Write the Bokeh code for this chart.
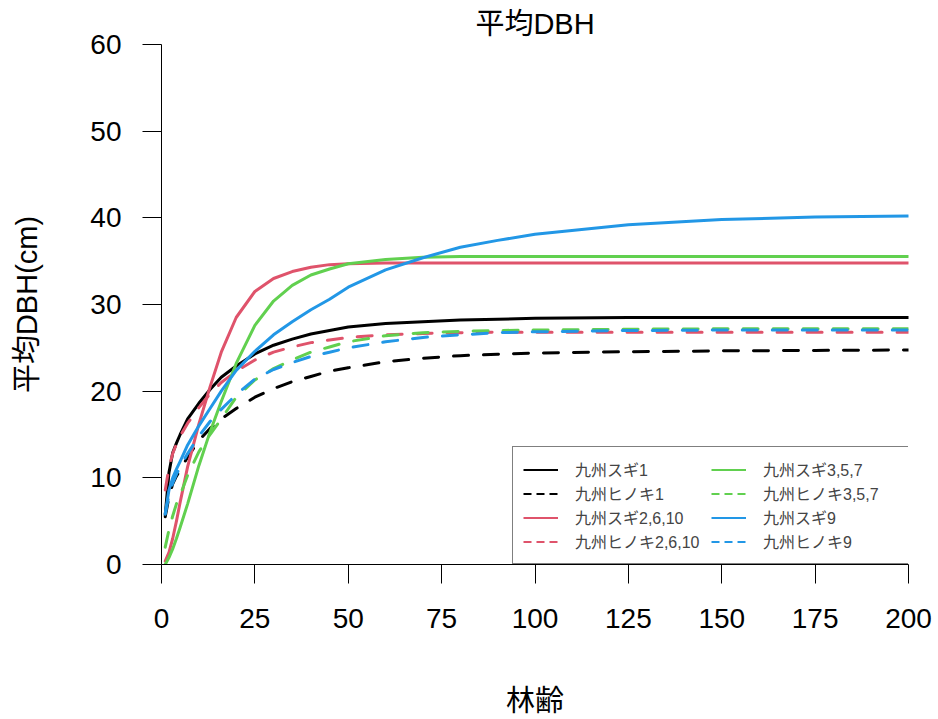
from bokeh.plotting import figure
from bokeh.models import ColumnDataSource, Legend, LegendItem, FixedTicker, Range1d
from bokeh.embed import file_html
from bokeh.resources import INLINE

# ---- data ----
ages = [1, 2, 3, 4, 5, 7, 10, 13, 16, 20, 25, 30, 35, 40, 45, 50, 60, 70, 80, 90, 100, 125, 150, 175, 200]

sugi_1 = [5.7, 10.6, 12.9, 14.0, 15.0, 16.8, 18.6, 20.2, 21.6, 22.9, 24.3, 25.3, 26.0, 26.6, 27.0,
          27.4, 27.8, 28.0, 28.2, 28.3, 28.4, 28.5, 28.5, 28.5, 28.5]
hinoki_1 = [5.5, 7.8, 9.3, 10.2, 10.9, 12.4, 14.3, 15.7, 16.8, 18.0, 19.3, 20.3, 21.1, 21.7, 22.3,
            22.7, 23.4, 23.8, 24.1, 24.25, 24.4, 24.55, 24.65, 24.7, 24.75]
sugi_2_6_10 = [0.4, 1.4, 3.0, 5.0, 7.2, 11.3, 16.2, 20.5, 24.5, 28.5, 31.5, 33.0, 33.8, 34.3, 34.6,
               34.7, 34.8, 34.8, 34.8, 34.8, 34.8, 34.8, 34.8, 34.8, 34.8]
hinoki_2_6_10 = [8.6, 11.2, 12.8, 13.9, 14.8, 16.3, 18.1, 19.7, 21.0, 22.3, 23.6, 24.5, 25.1, 25.6, 25.9,
                 26.2, 26.5, 26.65, 26.75, 26.8, 26.8, 26.8, 26.8, 26.8, 26.8]
sugi_3_5_7 = [0.0, 0.8, 1.8, 3.0, 4.3, 7.0, 11.4, 15.3, 18.8, 23.2, 27.6, 30.4, 32.2, 33.4, 34.1,
              34.7, 35.2, 35.45, 35.55, 35.55, 35.55, 35.55, 35.55, 35.55, 35.55]
hinoki_3_5_7 = [2.0, 4.0, 5.6, 7.0, 8.0, 10.3, 13.0, 15.0, 16.8, 19.3, 21.3, 22.6, 23.6, 24.5, 25.1,
                25.7, 26.4, 26.75, 26.9, 27.0, 27.05, 27.15, 27.2, 27.2, 27.2]
sugi_9 = [5.9, 8.6, 10.0, 11.0, 11.9, 13.8, 16.0, 18.0, 20.0, 22.4, 24.6, 26.5, 28.0, 29.4, 30.6,
          32.0, 34.0, 35.4, 36.6, 37.4, 38.1, 39.2, 39.8, 40.1, 40.2]
hinoki_9 = [5.8, 8.0, 9.4, 10.4, 11.3, 12.8, 14.8, 16.5, 17.9, 19.6, 21.4, 22.5, 23.3, 24.0, 24.5,
            25.0, 25.7, 26.2, 26.5, 26.75, 26.85, 27.0, 27.05, 27.05, 27.05]

series_names = ["九州スギ1", "九州ヒノキ1", "九州スギ2,6,10", "九州ヒノキ2,6,10",
                "九州スギ3,5,7", "九州ヒノキ3,5,7", "九州スギ9", "九州ヒノキ9"]
series_values = [sugi_1, hinoki_1, sugi_2_6_10, hinoki_2_6_10,
                 sugi_3_5_7, hinoki_3_5_7, sugi_9, hinoki_9]
series_colors = ["#000000", "#000000", "#DF536B", "#DF536B",
                 "#61D04F", "#61D04F", "#2297E6", "#2297E6"]
series_dashed = [False, True, False, True, False, True, False, True]

x_ticks = [0, 25, 50, 75, 100, 125, 150, 175, 200]
y_ticks = [0, 10, 20, 30, 40, 50, 60]

TXT_FONT = "Liberation Sans, Noto Sans CJK JP"

p = figure(width=938, height=719, output_backend="svg", toolbar_location=None,
           x_range=Range1d(0, 200), y_range=Range1d(0, 60),
           min_border_left=161, min_border_right=30, min_border_top=44, min_border_bottom=153)
p.outline_line_color = None
p.xgrid.visible = False
p.ygrid.visible = False
p.background_fill_color = "white"
p.border_fill_color = "white"

p.title.text = "平均DBH"
p.title.align = "center"
p.title.text_font = TXT_FONT
p.title.text_font_size = "29px"
p.title.text_font_style = "normal"
p.title.text_color = "black"

for ax, ticks in ((p.xaxis, x_ticks), (p.yaxis, y_ticks)):
    ax.ticker = FixedTicker(ticks=ticks)
    ax.minor_tick_line_color = None
    ax.major_tick_in = 0
    ax.major_tick_out = 19
    ax.major_tick_line_color = "black"
    ax.axis_line_color = "black"
    ax.major_label_text_font = "Liberation Sans"
    ax.major_label_text_font_size = "28px"
    ax.major_label_text_color = "black"
    ax.axis_label_text_font = TXT_FONT
    ax.axis_label_text_font_size = "29px"
    ax.axis_label_text_font_style = "normal"
    ax.axis_label_text_color = "black"

p.xaxis.axis_label = "林齢"
p.yaxis.axis_label = "平均DBH(cm)"
p.xaxis.major_label_standoff = 25
p.yaxis.major_label_standoff = 21
p.xaxis.axis_label_standoff = 54
p.yaxis.axis_label_standoff = 44

items = []
for name, vals, col, dashed in zip(series_names, series_values, series_colors, series_dashed):
    src = ColumnDataSource(dict(x=ages, y=vals))
    kw = dict(line_dash="15 15") if dashed else {}
    p.line("x", "y", source=src, line_color=col, line_width=3, line_cap="round",
           line_join="round", **kw)
    # legend-only renderer (outside the visible range) with thinner, shorter-dash styling
    lkw = dict(line_dash="8 5") if dashed else {}
    lr = p.line(x=[-20, -10], y=[-20, -20], line_color=col, line_width=2, **lkw)
    items.append(LegendItem(label=name, renderers=[lr]))

legend = Legend(items=items, location=(351, 0), orientation="vertical", nrows=4,
                margin=0, padding=10, spacing=0, glyph_width=35, glyph_height=21,
                label_height=21, label_width=136, label_standoff=17,
                label_text_font=TXT_FONT, label_text_font_size="16px",
                border_line_color="black", border_line_width=1,
                background_fill_color="white", background_fill_alpha=1.0)
p.add_layout(legend)

open("out.html", "w").write(file_html(p, INLINE))
